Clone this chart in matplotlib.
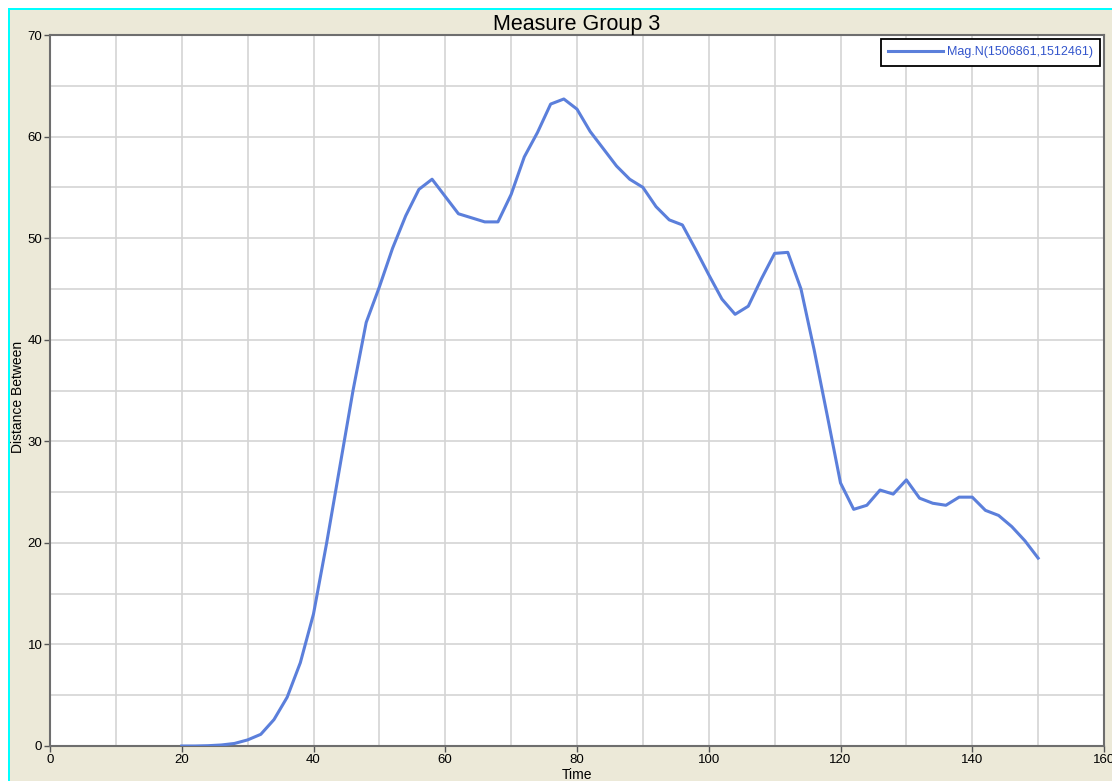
import numpy as np
import matplotlib.pyplot as plt
from matplotlib.patches import Rectangle
from matplotlib.ticker import MultipleLocator

# Werte
time = list(range(20, 152, 2))
distance = [0.0, 0.0, 0.03, 0.1, 0.25, 0.6, 1.15, 2.6, 4.8, 8.2,
            13.0, 20.0, 27.5, 35.0, 41.7, 45.2, 49.0, 52.2, 54.8, 55.8,
            54.1, 52.4, 52.0, 51.6, 51.6, 54.3, 58.0, 60.4, 63.2, 63.7,
            62.7, 60.5, 58.8, 57.1, 55.8, 55.0, 53.1, 51.8, 51.3, 48.9,
            46.4, 44.0, 42.5, 43.3, 46.0, 48.5, 48.6, 45.0, 39.0, 32.5,
            25.9, 23.3, 23.7, 25.2, 24.8, 26.2, 24.4, 23.9, 23.7, 24.5,
            24.5, 23.2, 22.7, 21.6, 20.2, 18.5]
series_label = "Mag.N(1506861,1512461)"
title = "Measure Group 3"
xlabel = "Time"
ylabel = "Distance Between"

plt.rcParams['font.family'] = ['Liberation Sans', 'DejaVu Sans']

W, H = 1112, 781
fig = plt.figure(figsize=(W / 100, H / 100), dpi=100, facecolor='#ECE9D8')

# weisser Rand + cyan Linie oben und links
fig.patches.append(Rectangle((0, 1 - 8 / H), 1, 8 / H, transform=fig.transFigure,
                             facecolor='white', edgecolor='none', zorder=0))
fig.patches.append(Rectangle((0, 0), 8 / W, 1, transform=fig.transFigure,
                             facecolor='white', edgecolor='none', zorder=0))
fig.patches.append(Rectangle((8 / W, 1 - 10 / H), 1, 2 / H, transform=fig.transFigure,
                             facecolor='#00FFFF', edgecolor='none', zorder=1))
fig.patches.append(Rectangle((8 / W, 0), 2 / W, 1 - 8 / H, transform=fig.transFigure,
                             facecolor='#00FFFF', edgecolor='none', zorder=1))

ax = fig.add_axes([50 / W, 1 - 746 / H, 1054 / W, 711 / H])
ax.set_facecolor('white')

ax.plot(time, distance, color='#5B7FDB', lw=2.2, label=series_label, zorder=3)

ax.set_xlim(0, 160)
ax.set_ylim(0, 70)
ax.xaxis.set_major_locator(MultipleLocator(20))
ax.xaxis.set_minor_locator(MultipleLocator(10))
ax.yaxis.set_major_locator(MultipleLocator(10))
ax.yaxis.set_minor_locator(MultipleLocator(5))
ax.grid(which='both', color='#D4D4D4', lw=1.2, zorder=0)
ax.tick_params(which='major', direction='out', length=4, width=1, color='#555555',
               labelsize=9.5, pad=1.5)
ax.tick_params(which='minor', length=0)
for s in ax.spines.values():
    s.set_color('#6E6E6E')
    s.set_linewidth(1.5)

ax.set_title(title, fontsize=15.5, pad=1)
ax.set_xlabel(xlabel, fontsize=10, labelpad=2)
ax.set_ylabel(ylabel, fontsize=10, va='center')
ax.yaxis.set_label_coords(-0.0304, 0.491)

leg = ax.legend(loc='upper right', fontsize=9, fancybox=False, framealpha=1,
                edgecolor='black', borderaxespad=0.3, handlelength=4.4,
                handletextpad=0.3, borderpad=0.6)
leg.get_frame().set_linewidth(1.3)
for t in leg.get_texts():
    t.set_color('#3355CC')

fig.savefig('out.png', dpi=100, facecolor=fig.get_facecolor())
